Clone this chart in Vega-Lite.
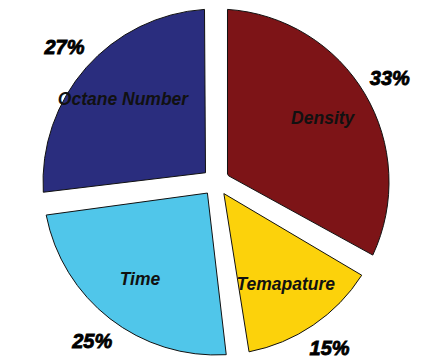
{
  "$schema": "https://vega.github.io/schema/vega-lite/v6.json",
  "width": 427,
  "height": 359,
  "autosize": {"type": "fit", "contains": "padding"},
  "padding": {"left": 5, "top": 5, "right": 0, "bottom": 0},
  "background": "white",
  "view": {"stroke": null},
  "data": {
    "values": [
      {"factor": "Density", "share": 0.33, "idx": 1},
      {"factor": "Temapature", "share": 0.15, "idx": 2},
      {"factor": "Time", "share": 0.25, "idx": 3},
      {"factor": "Octane Number", "share": 0.27, "idx": 4}
    ]
  },
  "encoding": {
    "theta": {"field": "share", "type": "quantitative", "stack": true},
    "order": {"field": "idx", "type": "quantitative"}
  },
  "layer": [
    {
      "mark": {
        "type": "arc",
        "outerRadius": 173,
        "innerRadius": 14,
        "padAngle": 0.1325,
        "stroke": "#111111",
        "strokeWidth": 1
      },
      "encoding": {
        "color": {
          "field": "factor",
          "type": "nominal",
          "scale": {
            "domain": ["Density", "Temapature", "Time", "Octane Number"],
            "range": ["#7d1417", "#fcd20b", "#50c6ea", "#2a2d7e"]
          },
          "legend": null
        }
      }
    },
    {
      "mark": {
        "type": "text",
        "radius": 124,
        "font": "Liberation Sans",
        "fontSize": 17.5,
        "fontWeight": "bold",
        "fontStyle": "italic",
        "fill": "#111111",
        "baseline": "middle",
        "align": "center"
      },
      "encoding": {"text": {"field": "factor", "type": "nominal"}}
    },
    {
      "mark": {
        "type": "text",
        "radius": 202,
        "font": "Liberation Sans",
        "fontSize": 20,
        "fontWeight": "bold",
        "fontStyle": "italic",
        "fill": "#000000",
        "stroke": "#000000",
        "strokeWidth": 0.8,
        "baseline": "middle",
        "align": "center"
      },
      "encoding": {"text": {"field": "share", "type": "quantitative", "format": ".0%"}}
    }
  ]
}
